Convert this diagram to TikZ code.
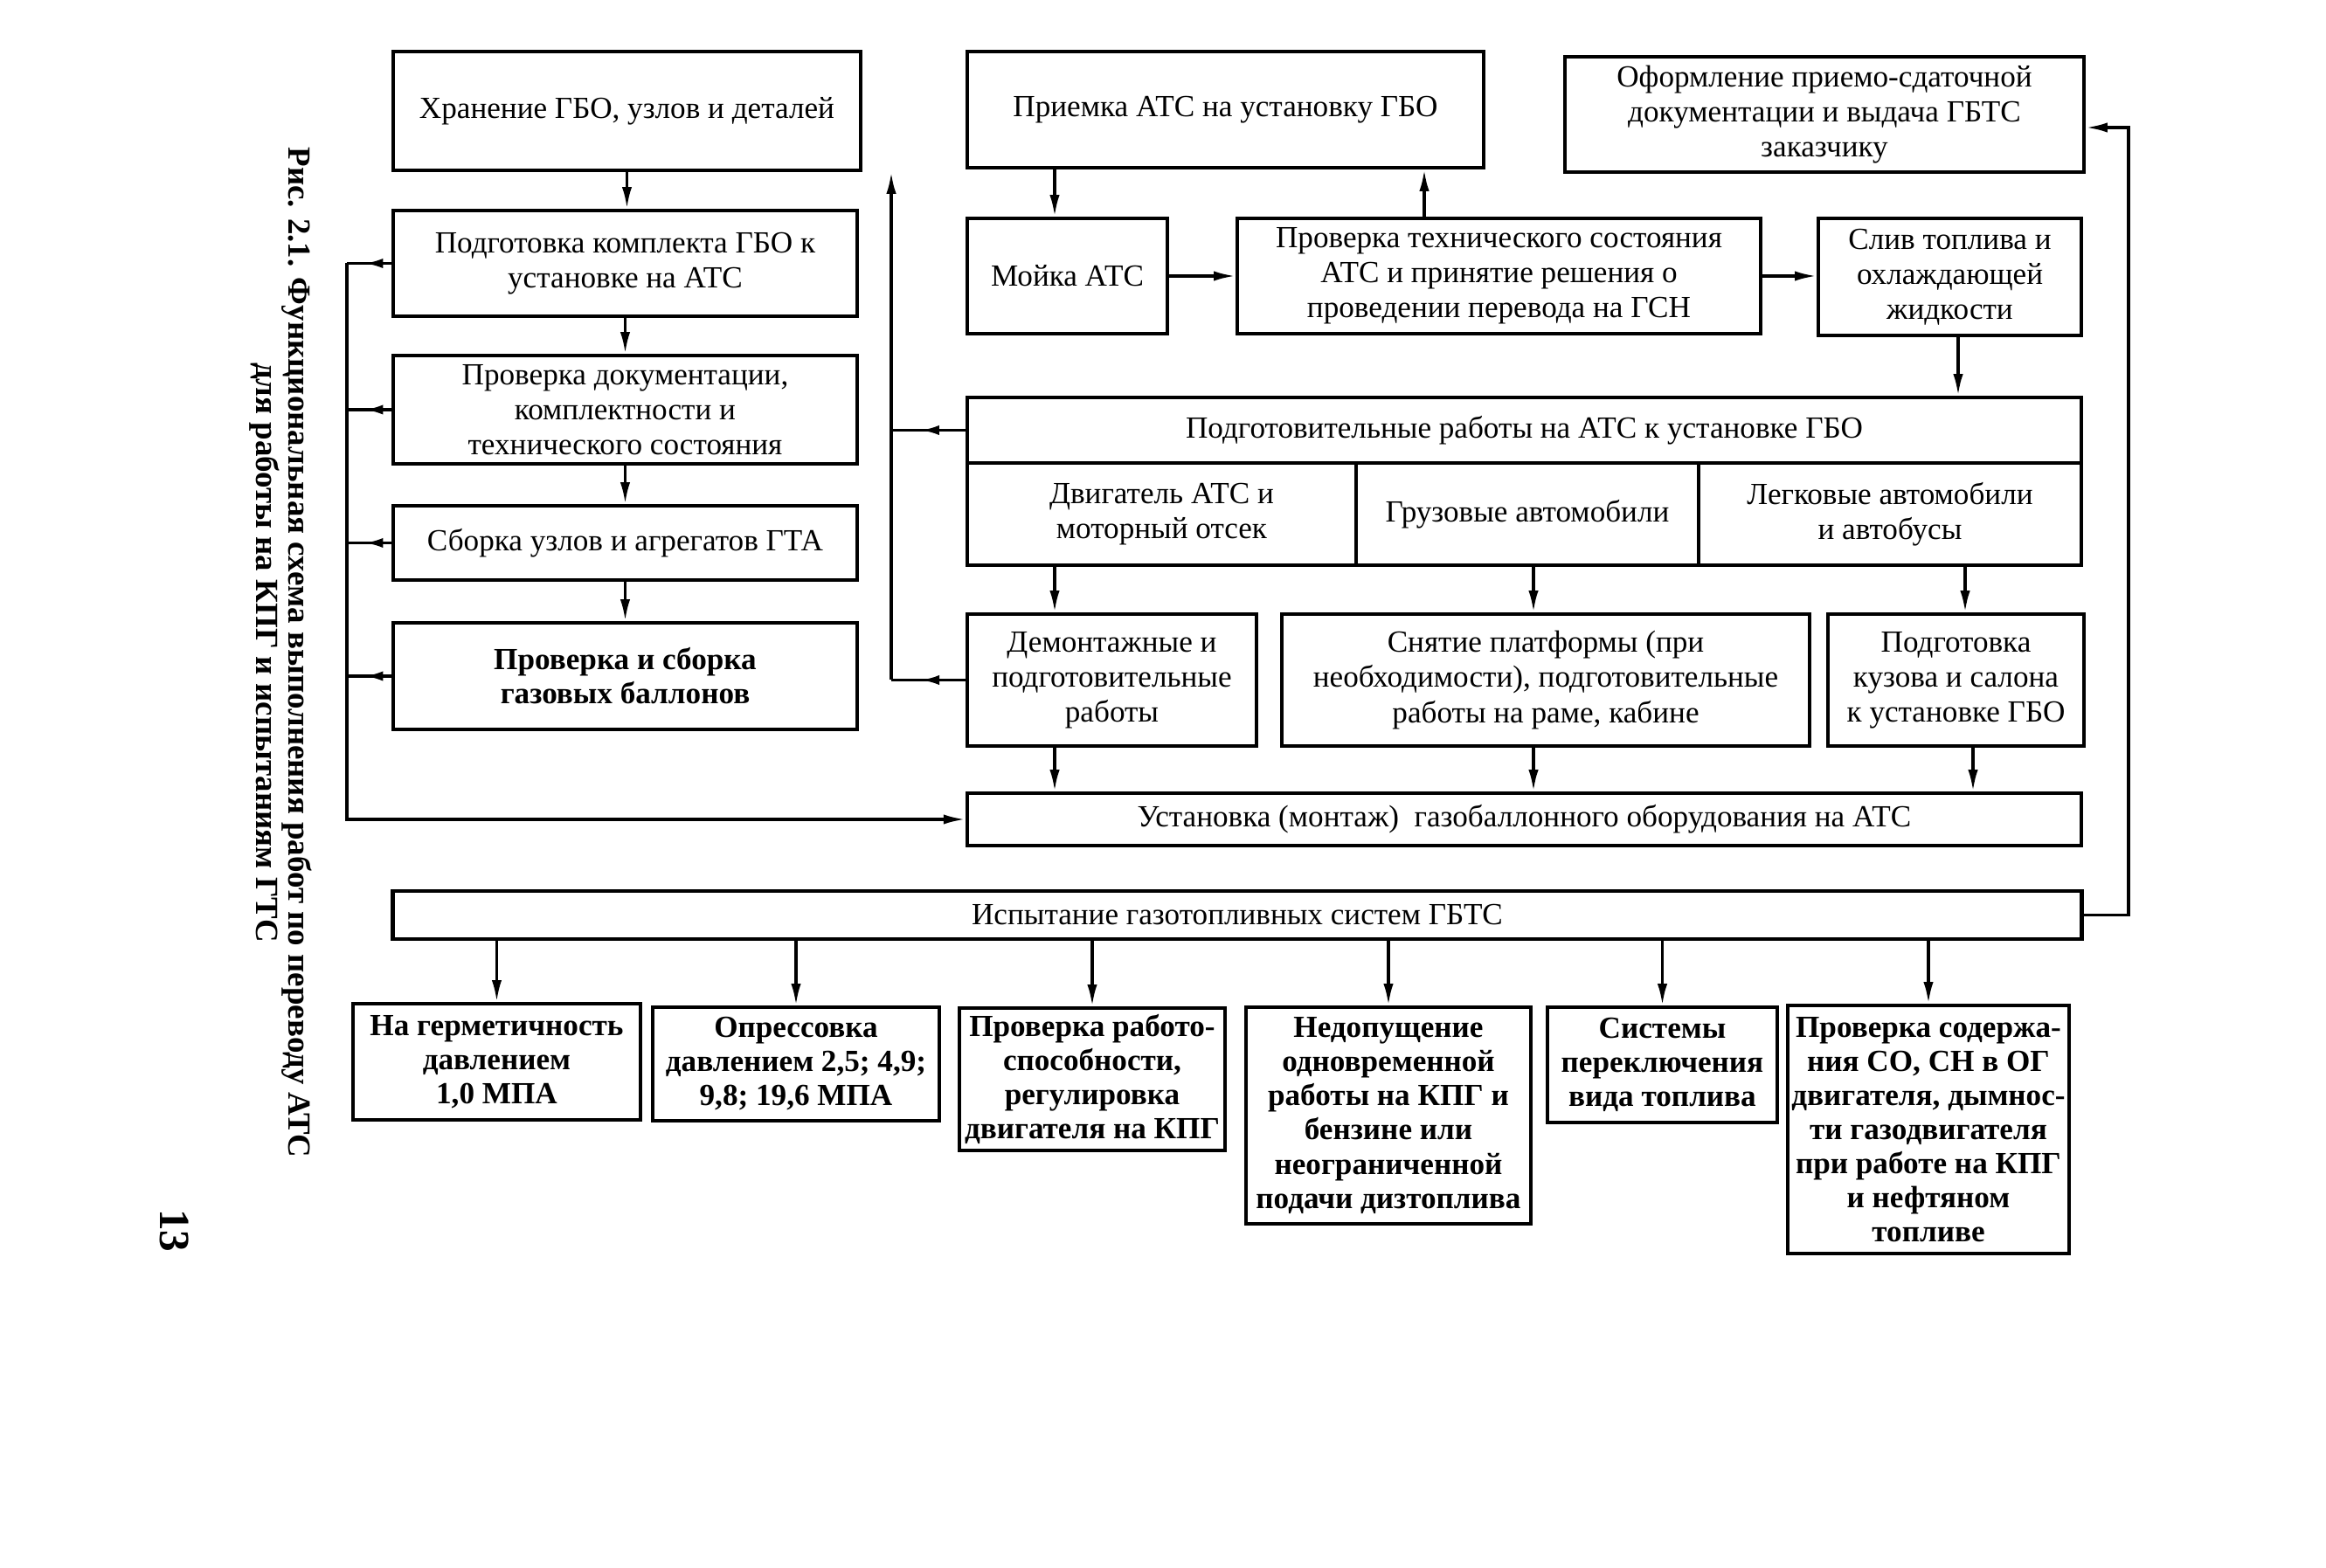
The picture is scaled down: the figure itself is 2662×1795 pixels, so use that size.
\documentclass[tikz,border=0pt]{standalone}
\usepackage{fontspec}
\setmainfont{Liberation Serif}
\usetikzlibrary{arrows.meta,decorations.markings,calc}
\begin{document}
\begin{tikzpicture}[x=0.01cm,y=-0.01cm,
  box/.style={draw, line width=1.2pt, align=center, inner sep=1pt, font=\fontsize{10}{11.4}\selectfont},
  bbox/.style={box, font=\fontsize{10}{11.1}\selectfont\bfseries},
  conn/.style={line width=0.9pt},
  arr/.style={conn, -{Latex[length=7pt,width=3.2pt]}},
  midarr/.style={conn, postaction={decorate}, decoration={markings, mark=at position 0.6 with {\arrow{Latex[length=6pt,width=3.2pt]}}}},
]
\fill[white] (0,0) rectangle (2662,1795);
\useasboundingbox (0,0) rectangle (2662,1795);

% caption
\node[rotate=-90, align=center, font=\fontsize{10.5}{10.5}\selectfont\bfseries] (cap) at (321,747)
  {Рис. 2.1. Функциональная схема выполнения работ по переводу АТС\\для работы на КПГ и испытаниям ГТС};
\node[rotate=-90, font=\fontsize{14}{14}\selectfont\bfseries] (pg) at (200,1409) {13};

% top row
\node[box, minimum width=5.35cm, minimum height=1.36cm] (hran) at (717.5,127) {Хранение ГБО, узлов и деталей};
\node[box, minimum width=5.91cm, minimum height=1.33cm] (priem) at (1402.5,125.5) {Приемка АТС на установку ГБО};
\node[box, minimum width=5.94cm, minimum height=1.32cm] (oform) at (2088,131) {Оформление приемо-сдаточной\\документации и выдача ГБТС\\заказчику};

% second row
\node[box, minimum width=5.31cm, minimum height=1.21cm] (podkompl) at (715.5,301.5) {Подготовка комплекта ГБО к\\установке на АТС};
\node[box, minimum width=2.29cm, minimum height=1.32cm] (moika) at (1221.5,316) {Мойка АТС};
\node[box, minimum width=5.99cm, minimum height=1.32cm] (provteh) at (1715.5,316) {Проверка технического состояния\\АТС и принятие решения о\\проведении перевода на ГСН};
\node[box, minimum width=3.01cm, minimum height=1.34cm] (sliv) at (2231.5,317) {Слив топлива и\\охлаждающей\\жидкости};

% left column
\node[box, minimum width=5.31cm, minimum height=1.24cm] (provdok) at (715.5,469) {Проверка документации,\\комплектности и\\технического состояния};
\node[box, minimum width=5.31cm, minimum height=0.85cm] (sborka) at (715.5,621.5) {Сборка узлов и агрегатов ГТА};
\node[bbox, minimum width=5.31cm, minimum height=1.22cm] (ballon) at (715.5,774) {Проверка и сборка\\газовых баллонов};

% preparatory works
\node[box, minimum width=12.75cm, minimum height=0.75cm] (podgot) at (1744.5,492.5) {Подготовительные работы на АТС к установке ГБО};
\node[box, minimum width=4.45cm, minimum height=1.17cm] (c1) at (1329.5,588.5) {Двигатель АТС и\\моторный отсек};
\node[box, minimum width=3.92cm, minimum height=1.17cm] (c2) at (1748,588.5) {Грузовые автомобили};
\node[box, minimum width=4.38cm, minimum height=1.17cm] (c3) at (2163,588.5) {Легковые автомобили\\и автобусы};

\node[box, minimum width=3.31cm, minimum height=1.51cm] (demont) at (1272.5,778.5) {Демонтажные и\\подготовительные\\работы};
\node[box, minimum width=6.04cm, minimum height=1.51cm] (snyat) at (1769,778.5) {Снятие платформы (при\\необходимости), подготовительные\\работы на раме, кабине};
\node[box, minimum width=2.93cm, minimum height=1.51cm] (kuzov) at (2238.5,778.5) {Подготовка\\кузова и салона\\к установке ГБО};

\node[box, minimum width=12.75cm, minimum height=0.60cm] (ustan) at (1744.5,938) {Установка (монтаж)\ \ газобаллонного оборудования на АТС};
\node[box, minimum width=19.32cm, minimum height=0.55cm] (ispyt) at (1416,1047.5) {Испытание газотопливных систем ГБТС};

% bottom row
\node[bbox, minimum width=3.29cm, minimum height=1.33cm] (b1) at (568.5,1215.5) {На герметичность\\давлением\\1,0 МПА};
\node[bbox, minimum width=3.28cm, minimum height=1.30cm] (b2) at (911,1218) {Опрессовка\\давлением 2,5; 4,9;\\9,8; 19,6 МПА};
\node[bbox, minimum width=3.04cm, minimum height=1.63cm] (b3) at (1250,1235.5) {Проверка работо-\\способности,\\регулировка\\двигателя на КПГ};
\node[bbox, minimum width=3.26cm, minimum height=2.48cm] (b4) at (1589,1277) {Недопущение\\одновременной\\работы на КПГ и\\бензине или\\неограниченной\\подачи дизтоплива};
\node[bbox, minimum width=2.63cm, minimum height=1.32cm] (b5) at (1902.5,1219) {Системы\\переключения\\вида топлива};
\node[bbox, minimum width=3.22cm, minimum height=2.84cm] (b6) at (2207,1293) {Проверка содержа-\\ния СО, СН в ОГ\\двигателя, дымнос-\\ти газодвигателя\\при работе на КПГ\\и нефтяном\\топливе};

% helper coordinates
\coordinate (x1) at (1207,0);
\coordinate (x2) at (1755,0);
\coordinate (x3) at (2249,0);
\coordinate (x3b) at (2258,0);
\coordinate (x4) at (1630,0);
\coordinate (x5) at (2241,0);
\coordinate (lb) at (397,938);
\coordinate (rb) at (1020,778.5);
\coordinate (lp) at (2436,146);

% left column flow
\draw[arr] (hran.south) -- (hran.south |- podkompl.north);
\draw[arr] (podkompl) -- (provdok);
\draw[arr] (provdok) -- (sborka);
\draw[arr] (sborka) -- (ballon);

% left bus
\draw[midarr] (podkompl.west) -- (podkompl.west -| lb);
\draw[midarr] (provdok.west) -- (provdok.west -| lb);
\draw[midarr] (sborka.west) -- (sborka.west -| lb);
\draw[midarr] (ballon.west) -- (ballon.west -| lb);
\draw[arr] (podkompl.west -| lb) -- (lb) -- (ustan.west);

% right bus to storage
\draw[midarr] (podgot.west) -- (podgot.west -| rb);
\draw[midarr] (demont.west) -- (demont.west -| rb);
\draw[arr] (demont.west -| rb) -- (rb |- hran.south);

% top flow
\draw[arr] (x1 |- priem.south) -- (x1 |- moika.north);
\draw[arr] (moika.east) -- (moika.east -| provteh.west);
\draw[arr] (x4 |- provteh.north) -- (x4 |- priem.south);
\draw[arr] (provteh.east) -- (provteh.east -| sliv.west);
\draw[arr] (x5 |- sliv.south) -- (x5 |- podgot.north);

% sub cells to works
\draw[arr] (x1 |- c1.south) -- (x1 |- demont.north);
\draw[arr] (x2 |- c2.south) -- (x2 |- snyat.north);
\draw[arr] (x3 |- c3.south) -- (x3 |- kuzov.north);
\draw[arr] (x1 |- demont.south) -- (x1 |- ustan.north);
\draw[arr] (x2 |- snyat.south) -- (x2 |- ustan.north);
\draw[arr] (x3b |- kuzov.south) -- (x3b |- ustan.north);

% tests
\foreach \b in {b1,b2,b3,b4,b5,b6}
  \draw[arr] (\b.north |- ispyt.south) -- (\b.north);

% loop to documentation
\draw[arr] (ispyt.east) -- (ispyt.east -| lp) -- (lp) -- (lp -| oform.east);
\end{tikzpicture}
\end{document}
